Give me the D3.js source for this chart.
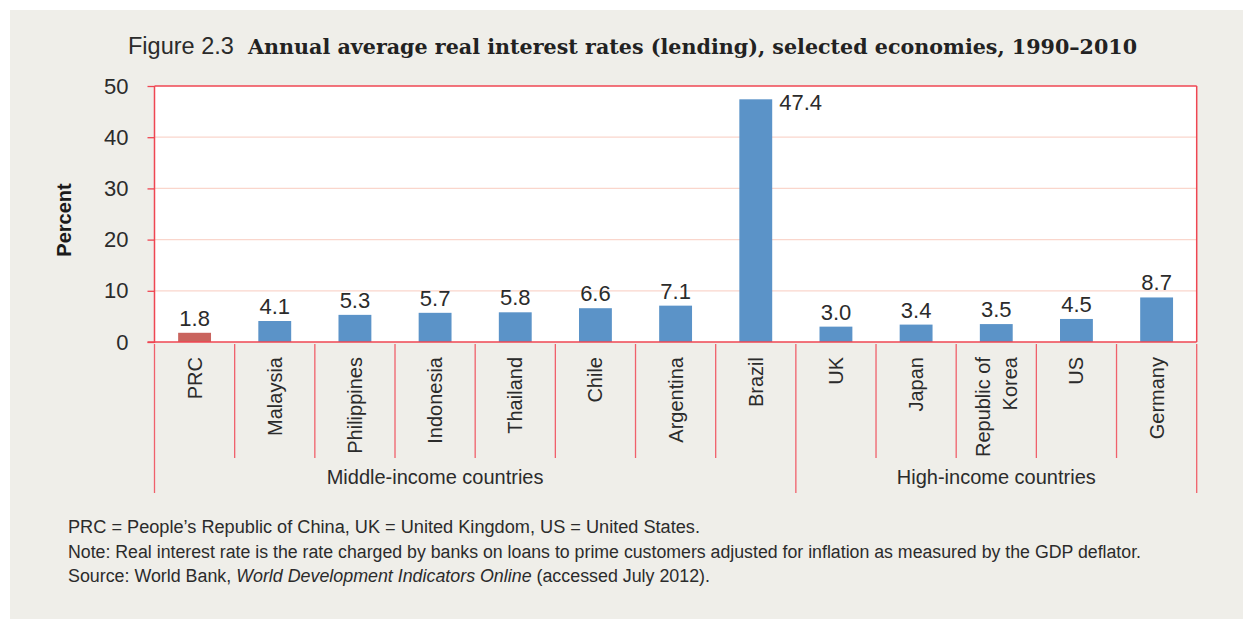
<!DOCTYPE html>
<html><head><meta charset="utf-8">
<script src="https://cdn.jsdelivr.net/npm/d3@7"></script>
<style>
html,body{margin:0;padding:0;background:#fff;}
svg{display:block;}
</style></head>
<body>
<svg id="chart" width="1243" height="619"></svg>
<script>
const categories = ["PRC","Malaysia","Philippines","Indonesia","Thailand","Chile","Argentina","Brazil","UK","Japan","Republic of Korea","US","Germany"];
const categoryLines = [["PRC"],["Malaysia"],["Philippines"],["Indonesia"],["Thailand"],["Chile"],["Argentina"],["Brazil"],["UK"],["Japan"],["Republic of","Korea"],["US"],["Germany"]];
const values = [1.8,4.1,5.3,5.7,5.8,6.6,7.1,47.4,3.0,3.4,3.5,4.5,8.7];
const highlighted = ["PRC"];
const groupNames = ["Middle-income countries","High-income countries"];
const groupStart = [0,8];
const groupEnd = [7,12];
const groupLabelSpan = [[0,6],[8,12]];
const yTicks = [0,10,20,30,40,50];
const titlePrefix = "Figure 2.3";
const titleMain = "Annual average real interest rates (lending), selected economies, 1990–2010";
const yTitle = "Percent";
const notes = [
  [{t:"PRC = People’s Republic of China, UK = United Kingdom, US = United States."}],
  [{t:"Note: Real interest rate is the rate charged by banks on loans to prime customers adjusted for inflation as measured by the GDP deflator."}],
  [{t:"Source: World Bank, "},{t:"World Development Indicators Online",i:true},{t:" (accessed July 2012)."}]
];

const svg = d3.select("#chart");
const W = 1243, H = 619;
const red = "#ef4652", grid = "#fad6cc", blue = "#5b93c8", redBar = "#c9645e", txt = "#2b2b2b";
const sans = "'Liberation Sans', Arial, sans-serif";
const narrow = "'Liberation Sans Narrow', 'Liberation Sans', Arial, sans-serif";

svg.append("rect").attr("x",10).attr("y",10).attr("width",W-10).attr("height",H-10).attr("fill","#efeee9");

const L = 154.5, R = 1196.7, T = 86, B = 342;
const x = d3.scaleBand().domain(categories).range([L,R]).paddingInner(0.59).paddingOuter(0.295);
const y = d3.scaleLinear().domain([0,50]).range([B,T]);
const step = x.step();
const bandL = i => L + i*step;

svg.append("rect").attr("x",L).attr("y",T).attr("width",R-L).attr("height",B-T).attr("fill","#fff");

// gridlines
svg.append("g").selectAll("line").data(yTicks.filter(d=>d>0 && d<50)).join("line")
  .attr("x1",L).attr("x2",R).attr("y1",d=>y(d)).attr("y2",d=>y(d))
  .attr("stroke",grid).attr("stroke-width",1.3);

// y axis
const yAxis = svg.append("g").attr("transform",`translate(${L},0)`)
  .call(d3.axisLeft(y).tickValues(yTicks).tickSize(7).tickPadding(19));
yAxis.select(".domain").remove();
yAxis.selectAll(".tick line").attr("stroke",red).attr("stroke-width",1.3);
yAxis.selectAll(".tick text").attr("font-family",sans).attr("font-size",22).attr("fill",txt);

// bars
svg.append("g").selectAll("rect").data(categories).join("rect")
  .attr("x",d=>x(d)).attr("width",x.bandwidth())
  .attr("y",(d,i)=>y(values[i])).attr("height",(d,i)=>y(0)-y(values[i]))
  .attr("fill",d=>highlighted.includes(d)?redBar:blue);

// value labels
svg.append("g").selectAll("text").data(categories).join("text")
  .each(function(d,i){
    const v = values[i], top = y(v);
    const s = d3.select(this);
    if (top - 24 < T) {
      s.attr("x", x(d)+x.bandwidth()+7).attr("y", top+11).attr("text-anchor","start");
    } else {
      s.attr("x", x(d)+x.bandwidth()/2).attr("y", top-7).attr("text-anchor","middle");
    }
  })
  .attr("font-family",sans).attr("font-size",22).attr("fill",txt)
  .text((d,i)=>values[i].toFixed(1));

// plot frame
const frame = svg.append("g").attr("stroke",red).attr("stroke-width",1.5).attr("fill","none");
frame.append("line").attr("x1",L).attr("x2",R).attr("y1",T).attr("y2",T);
frame.append("line").attr("x1",R).attr("x2",R).attr("y1",T).attr("y2",B);
frame.append("line").attr("x1",L).attr("x2",L).attr("y1",T).attr("y2",B+1);
frame.append("line").attr("x1",L-7).attr("x2",R).attr("y1",B).attr("y2",B);

// category separators
const sepG = svg.append("g").attr("stroke","#f0606b").attr("stroke-width",1.3);
d3.range(1,categories.length).forEach(i=>{
  if (groupStart.includes(i)) return;
  sepG.append("line").attr("x1",bandL(i)).attr("x2",bandL(i)).attr("y1",B+2).attr("y2",458);
});
const gb = [0].concat(groupStart.slice(1), [categories.length]);
gb.forEach(i=>{
  sepG.append("line").attr("x1",bandL(i)).attr("x2",bandL(i)).attr("y1",B+2).attr("y2",493);
});

// category labels
categoryLines.forEach((lines,i)=>{
  const cx = x(categories[i]) + x.bandwidth()/2;
  const n = lines.length;
  lines.forEach((ln,j)=>{
    const off = (j - (n-1)/2)*27;
    svg.append("text")
      .attr("transform",`translate(${cx+off},357) rotate(-90)`)
      .attr("text-anchor","end").attr("dominant-baseline","central")
      .attr("font-family",sans).attr("font-size",20).attr("fill",txt).text(ln);
  });
});

// group labels
groupNames.forEach((g,k)=>{
  const a = groupLabelSpan[k][0], b = groupLabelSpan[k][1];
  const cx = (bandL(a)+bandL(b+1))/2;
  svg.append("text").attr("x",cx).attr("y",484).attr("text-anchor","middle")
    .attr("font-family",sans).attr("font-size",20).attr("fill",txt).text(g);
});

// y title
svg.append("text").attr("transform","translate(63.5,220) rotate(-90)")
  .attr("text-anchor","middle").attr("dominant-baseline","central")
  .attr("font-family",sans).attr("font-weight","bold").attr("font-size",20).attr("fill","#1a1a1a").text(yTitle);

// title
svg.append("text").attr("x",128).attr("y",54).attr("font-family",sans).attr("font-size",23.5).attr("fill",txt).text(titlePrefix);
svg.append("text").attr("x",248).attr("y",54).attr("font-family","'DejaVu Serif','Liberation Serif',serif")
  .attr("font-weight","bold").attr("font-size",19.5).attr("fill","#222")
  .attr("textLength",889).attr("lengthAdjust","spacingAndGlyphs").text(titleMain);

// notes
const noteW = [632,1073,642];
notes.forEach((parts,k)=>{
  const t = svg.append("text").attr("x",68).attr("y",533+k*24.5)
    .attr("font-family",narrow).attr("font-size",18).attr("fill",txt)
    .attr("textLength",noteW[k]).attr("lengthAdjust","spacingAndGlyphs");
  parts.forEach(p=>{
    t.append("tspan").attr("font-style",p.i?"italic":"normal").text(p.t);
  });
});
</script>
</body></html>
